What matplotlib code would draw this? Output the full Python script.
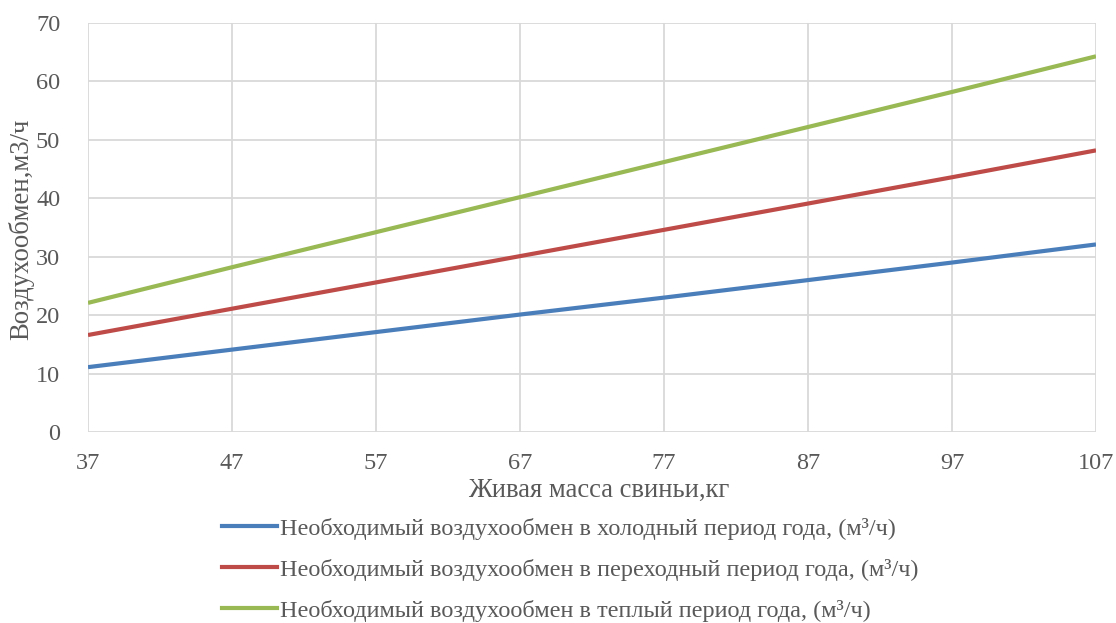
import matplotlib
matplotlib.use("Agg")
import matplotlib.pyplot as plt
from matplotlib.lines import Line2D

plt.rcParams['font.family'] = ['Liberation Serif', 'DejaVu Serif']

mass = [37, 47, 57, 67, 77, 87, 97, 107]
cold = [11.1, 14.1, 17.1, 20.1, 23.0, 26.0, 29.0, 32.1]
transition = [16.6, 21.1, 25.6, 30.1, 34.6, 39.1, 43.6, 48.2]
warm = [22.1, 28.2, 34.2, 40.2, 46.2, 52.2, 58.2, 64.3]
labels = [
    "Необходимый воздухообмен в холодный период года, (м³/ч)",
    "Необходимый воздухообмен в переходный период года, (м³/ч)",
    "Необходимый воздухообмен в теплый период года, (м³/ч)",
]
colors = ['#4a7ebb', '#be4b48', '#98b954']

W, H = 1116, 623
fig = plt.figure(figsize=(W / 100, H / 100), dpi=100)
ax = fig.add_axes([88 / W, 1 - 432 / H, (1096 - 88) / W, (432 - 23) / H])

for series, c, lab in zip([cold, transition, warm], colors, labels):
    ax.plot(mass, series, color=c, lw=3, label=lab, solid_capstyle='butt', zorder=3)

ax.set_xlim(37, 107)
ax.set_ylim(0, 70)
ax.set_xticks(range(37, 108, 10))
ax.set_yticks(range(0, 71, 10))
ax.grid(True, color='#d9d9d9', lw=1.3)
ax.set_axisbelow(True)
for s in ax.spines.values():
    s.set_visible(False)
ax.tick_params(length=0, labelsize=17.5, colors='#595959')
ax.tick_params(axis='x', pad=15)
ax.tick_params(axis='y', pad=20)

fig.text(21 / W, 1 - 229 / H, "Воздухообмен,м3/ч", rotation=90, ha='center', va='center',
         fontsize=19.3, color='#595959')
fig.text(599 / W, 1 - 497 / H, "Живая масса свиньи,кг", ha='center', va='baseline',
         fontsize=19.2, color='#595959')

handles = [Line2D([0], [0], color=c, lw=3) for c in colors]
leg = fig.legend(handles, labels, loc='upper left', bbox_to_anchor=(212 / W, 1 - 508 / H),
                 frameon=False, fontsize=17.5, labelspacing=0.78, handlelength=2.26,
                 handletextpad=0.12, borderaxespad=0)
for t in leg.get_texts():
    t.set_color('#595959')

fig.savefig("out.png", dpi=100)
